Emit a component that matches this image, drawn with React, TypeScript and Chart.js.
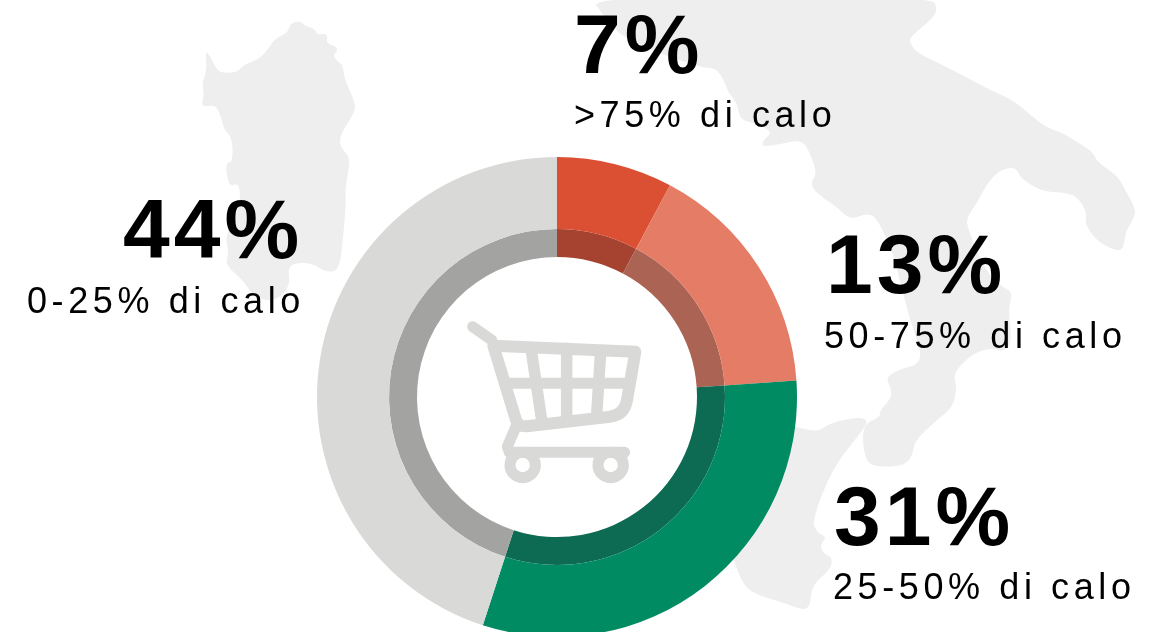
import React, { useEffect, useRef } from "react";
import Chart from "chart.js/auto";

const categories = [">75% di calo", "50-75% di calo", "25-50% di calo", "0-25% di calo"];
const arcShares = [7.8, 16.1, 31.1, 45.0];
const percentLabels = ["7%", "13%", "31%", "44%"];

const outerColors = ["#db4f32", "#e57c66", "#008b62", "#d9d9d7"];
const innerColors = ["#a54330", "#ab6353", "#0e6b53", "#a3a3a1"];

// Text layout: [percent x, percent baseline, label x, label baseline]
const textLayout = [
  [574, 73, 574, 127],
  [826, 293, 824, 348],
  [834, 545, 833, 599],
  [123, 258, 27, 313],
];

// Decorative background map outlines
const mainland = [
  [590, -4], [603, 15], [617, 33], [650, 50], [703, 68], [715, 68], [723, 78], [728, 92], [737, 103], [740, 120],
  [755, 123], [773, 132], [763, 140], [762, 147], [780, 144], [800, 140], [808, 148], [817, 173], [812, 180],
  [812, 188], [823, 198], [837, 207], [850, 220], [867, 213], [877, 218], [893, 253], [903, 293], [910, 320],
  [922, 353], [917, 365], [903, 368], [885, 377], [892, 390], [890, 400], [880, 410], [880, 417], [868, 422],
  [863, 430], [863, 447], [867, 462], [877, 467], [903, 466], [912, 457], [915, 440], [937, 420], [953, 407],
  [957, 387], [953, 373], [973, 353], [992, 348], [1003, 352], [1012, 343], [1008, 310], [1013, 292], [1002, 287],
  [985, 270], [967, 227], [967, 217], [977, 203], [985, 187], [997, 172], [1010, 167], [1018, 170], [1020, 178],
  [1043, 192], [1063, 192], [1078, 197], [1087, 213], [1085, 223], [1092, 235], [1103, 245], [1123, 253],
  [1125, 233], [1133, 220], [1136, 210], [1127, 193], [1117, 175], [1097, 162], [1093, 152], [1077, 142],
  [1063, 133], [1047, 128], [1033, 117], [1013, 100], [990, 90], [947, 67], [917, 53], [910, 43], [910, 37],
  [933, 18], [937, 10], [933, -4],
];
const sicily = [
  [797, 427], [818, 432], [830, 423], [858, 417], [868, 420], [863, 430], [833, 467], [812, 520], [817, 533],
  [827, 537], [820, 545], [823, 553], [833, 558], [830, 570], [812, 585], [810, 607], [802, 610], [785, 603],
  [757, 595], [743, 585], [735, 563], [700, 480], [750, 420],
];
const sardinia = [
  [290, 23], [301, 21], [303, 25], [315, 29], [317, 35], [325, 33], [328, 37], [326, 43], [337, 47], [337, 52],
  [333, 55], [337, 61], [343, 65], [344, 78], [355, 102], [355, 112], [343, 130], [339, 142], [343, 150], [350, 158],
  [348, 173], [345, 190], [346, 203], [343, 240], [339, 271], [325, 272], [312, 263], [293, 263], [288, 270],
  [290, 283], [283, 295], [270, 302], [252, 295], [243, 280], [225, 265], [229, 253], [225, 237], [235, 220],
  [240, 200], [240, 190], [237, 183], [229, 187], [225, 163], [233, 162], [232, 137], [224, 130], [220, 113],
  [215, 105], [203, 107], [202, 102], [204, 95], [202, 83], [207, 70], [205, 47], [217, 70], [222, 73], [238, 72],
  [243, 65], [262, 58], [275, 38], [288, 33],
];

function outline(ctx: CanvasRenderingContext2D, pts: number[][]) {
  ctx.beginPath();
  const n = pts.length;
  ctx.moveTo((pts[n - 1][0] + pts[0][0]) / 2, (pts[n - 1][1] + pts[0][1]) / 2);
  for (let i = 0; i < n; i++) {
    const next = pts[(i + 1) % n];
    ctx.quadraticCurveTo(pts[i][0], pts[i][1], (pts[i][0] + next[0]) / 2, (pts[i][1] + next[1]) / 2);
  }
  ctx.closePath();
  ctx.fill();
}

const mapPlugin = {
  id: "italyMap",
  beforeDraw(chart: any) {
    const ctx = chart.ctx;
    ctx.save();
    ctx.fillStyle = "#eeeeee";
    outline(ctx, mainland);
    outline(ctx, sicily);
    outline(ctx, sardinia);
    ctx.restore();
  },
};

const cartPlugin = {
  id: "cartIcon",
  afterDraw(chart: any) {
    const ctx = chart.ctx;
    const X = (v: number) => 450 + v / 3;
    const Y = (v: number) => 305 + v / 3;
    ctx.save();
    ctx.strokeStyle = "#d9d9d7";
    ctx.lineCap = "round";
    ctx.lineJoin = "round";
    const line = (pts: number[][], w: number) => {
      ctx.lineWidth = w;
      ctx.beginPath();
      pts.forEach((p, i) => (i ? ctx.lineTo(X(p[0]), Y(p[1])) : ctx.moveTo(X(p[0]), Y(p[1]))));
      ctx.stroke();
    };
    line([[68, 65], [125, 105]], 11);
    // basket
    ctx.lineWidth = 12;
    ctx.beginPath();
    ctx.moveTo(X(130), Y(122));
    ctx.lineTo(X(198), Y(345));
    ctx.quadraticCurveTo(X(205), Y(365), X(230), Y(364));
    ctx.lineTo(X(480), Y(335));
    ctx.quadraticCurveTo(X(525), Y(330), X(532), Y(280));
    ctx.lineTo(X(556), Y(140));
    ctx.closePath();
    ctx.stroke();
    line([[165, 235], [535, 235]], 11);
    line([[243, 130], [275, 345]], 11.5);
    line([[350, 130], [350, 340]], 11.5);
    line([[452, 140], [440, 330]], 11.5);
    // stand and axle
    line([[200, 360], [172, 425], [178, 442], [524, 442]], 11);
    // wheels
    ctx.lineWidth = 11;
    [218, 482].forEach((cx) => {
      ctx.beginPath();
      ctx.arc(X(cx), Y(480), 12.7, 0, Math.PI * 2);
      ctx.stroke();
    });
    ctx.restore();
  },
};

const textPlugin = {
  id: "sliceText",
  afterDraw(chart: any) {
    const ctx = chart.ctx;
    ctx.save();
    ctx.fillStyle = "#000000";
    ctx.textAlign = "left";
    ctx.textBaseline = "alphabetic";
    categories.forEach((cat, i) => {
      const [px, py, lx, ly] = textLayout[i];
      ctx.font = 'bold 84px "Liberation Sans"';
      ctx.letterSpacing = "4px";
      ctx.fillText(percentLabels[i], px, py);
      ctx.font = '36px "Liberation Sans"';
      ctx.letterSpacing = "4.6px";
      ctx.fillText(cat, lx, ly);
    });
    ctx.restore();
  },
};

export default function App() {
  const ref = useRef<HTMLCanvasElement>(null);
  useEffect(() => {
    const chart = new Chart(ref.current!, {
      type: "doughnut",
      data: {
        labels: categories,
        datasets: [
          { data: arcShares, backgroundColor: outerColors, borderWidth: 0, weight: 72 },
          { data: arcShares, backgroundColor: innerColors, borderWidth: 0, weight: 28 },
        ],
      },
      options: {
        responsive: false,
        animation: false,
        cutout: 140,
        layout: { padding: { left: 317, right: 364, top: 157, bottom: 3 } },
        plugins: { legend: { display: false }, tooltip: { enabled: false } },
      },
      plugins: [mapPlugin, cartPlugin, textPlugin],
    } as any);
    return () => chart.destroy();
  }, []);
  return (
    <div style={{ position: "absolute", left: 0, top: 0, width: 1161, height: 632, overflow: "hidden", background: "#fff" }}>
      <canvas ref={ref} width={1161} height={640} style={{ display: "block" }} />
    </div>
  );
}
